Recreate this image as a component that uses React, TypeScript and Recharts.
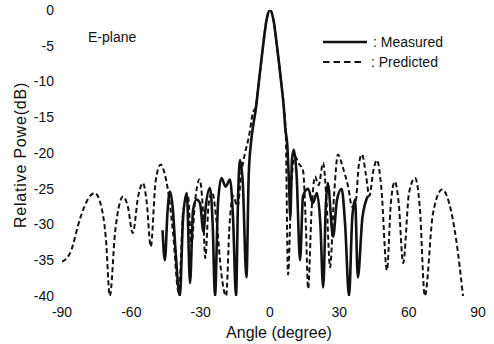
import React from "react";
import { LineChart, Line, XAxis, YAxis } from "recharts";

// predicted pattern (dashed), angle in degrees / power in dB
const predAngle = [
  -90, -86.5, -82, -78.5, -75.8, -73, -71, -69.3, -67, -65, -63.6, -61.5, -59.4, -57, -55, -53.3,
  -51.6, -49.5, -47.3, -45.5, -44, -42, -39.5, -37.5, -35.5, -34, -32.5, -30.5, -29, -28, -26.5,
  -25, -23, -21, -19, -17.5, -16, -14, -12.5, -10.8, -9, -7.5, -6.2, -4.8, -3, -1.5, 0, 1.5, 3,
  4.8, 6, 6.8, 7.8, 9.3, 10.8, 12.5, 14.3, 15.5, 16.5, 18, 19.5, 21, 23, 24.5, 26, 27.7, 29.4,
  31.5, 33.8, 35.5, 37, 38.5, 39.8, 41.5, 43, 44.7, 46.3, 48.2, 50.6, 52.3, 54, 55.7, 57.6, 60.2,
  62.8, 64.8, 67, 70.5, 74.5, 77.5, 80.5, 83.5,
];
const predPower = [
  -35.2, -34, -29, -26.3, -25.6, -27.5, -32, -40, -31, -27, -26.1, -27.5, -31.2, -26, -24.2, -27,
  -33.1, -24, -21.6, -23, -25.5, -31, -39.5, -28, -26, -33, -27, -23.7, -28, -34.7, -27,
  -25.5, -30, -37, -40, -30, -26, -27.5, -23, -20, -17.5, -14.5, -13.5, -10, -5, -1.4, 0, -1.4, -5,
  -10, -13.5, -17, -37, -24, -20.5, -21.5, -22.5, -30, -39, -28, -23.3, -24.5, -21.4, -27, -36, -26, -20.2,
  -22, -24.7, -27.5, -27, -21.5, -20.2, -23, -26, -22.5, -21, -25, -36.4, -27, -24, -27, -35.4, -25.5,
  -23.5, -27.5, -40, -28.5, -25.1, -27, -32, -40,
];

// measured pattern (solid)
const measAngle = [
  -46.5, -45.5, -44.3, -43.3, -42, -41, -39, -37.6, -36, -34.6, -33.3, -31.8, -30.3, -28.8, -27.8,
  -26, -24.8, -23.8, -22.5, -21, -19.2, -17.3, -16, -14.7, -13.8, -13, -11.8, -10.2, -9.2, -8.2,
  -7.2, -6.2, -4.8, -3, -1.5, 0, 1.5, 3, 4.8, 6, 6.6, 7.5, 8.2, 8.8, 9.5, 10.3, 11.5, 13, 14.3,
  16.5, 18.5, 20.3, 21.8, 23, 24.2, 25, 27.3, 29, 31, 32.5, 34.2, 35.6, 36.8, 38, 40, 42.4,
];
const measPower = [
  -30.8, -35, -28, -25.4, -28, -33, -40, -29, -25.6, -38.2, -28, -26.5, -27, -31, -27.5,
  -24.9, -30, -40, -27, -23.5, -24.7, -23.7, -29, -40, -26, -21, -24, -37.4, -23, -18.5,
  -16, -14, -10, -5, -1.4, 0, -1.4, -5, -10, -13.8, -16.5, -19, -24, -29, -21, -19.5, -23, -35, -26,
  -25, -27, -25.6, -30, -38.8, -27, -24.2, -31.7, -26.5, -25, -30, -40, -29, -26.5, -37.4, -29, -26,
];

const xTicks = [-90, -60, -30, 0, 30, 60, 90];
const yTicks = [0, -5, -10, -15, -20, -25, -30, -35, -40];

const predicted = predAngle.map((a, i) => ({ angle: a, power: predPower[i] }));
const measured = measAngle.map((a, i) => ({ angle: a, power: measPower[i] }));

const FONT = "'Liberation Sans', Arial, Helvetica, sans-serif";
const INK = "#111";
const SOLID_W = 2.6;
const DASH_W = 2;
const DASH = "5 3";

const tickStyle = { fill: INK, fontSize: 14, fontFamily: FONT };

const Decorations = () => (
  <g fontFamily={FONT} fill={INK}>
    <text
      x={20}
      y={155}
      fontSize={16}
      letterSpacing={0.8}
      textAnchor="middle"
      dominantBaseline="central"
      transform="rotate(-90 20 155)"
    >
      Relative Powe(dB)
    </text>
    <text x={88} y={42} fontSize={14}>E-plane</text>
    <line x1={323} x2={367} y1={42} y2={42} stroke={INK} strokeWidth={SOLID_W} />
    <text x={373} y={46.5} fontSize={14}>: Measured</text>
    <line x1={323} x2={364} y1={62} y2={62} stroke={INK} strokeWidth={DASH_W} strokeDasharray="6.5 4" />
    <text x={371} y={66.5} fontSize={14}>: Predicted</text>
  </g>
);

export default function App() {
  return (
    <div style={{ position: "absolute", left: 0, top: 0, width: 494, height: 344, background: "#fff" }}>
      <LineChart width={494} height={344} margin={{ top: 10, right: 16, bottom: 0, left: 0 }}>
        <XAxis
          type="number"
          dataKey="angle"
          domain={[-90, 90]}
          ticks={xTicks}
          axisLine={false}
          tickLine={false}
          tickMargin={5}
          height={48}
          tick={tickStyle}
          allowDataOverflow
          label={{
            value: "Angle (degree)",
            position: "insideBottom",
            offset: 6,
            dx: 9,
            style: { fill: INK, fontSize: 16, fontFamily: FONT },
          }}
        />
        <YAxis
          type="number"
          dataKey="power"
          domain={[-40, 0]}
          ticks={yTicks}
          axisLine={false}
          tickLine={false}
          width={62}
          tick={tickStyle}
          allowDataOverflow
          label={() => <Decorations />}
        />
        <Line
          data={predicted}
          dataKey="power"
          type="monotone"
          stroke={INK}
          strokeWidth={DASH_W}
          strokeDasharray={DASH}
          dot={false}
          isAnimationActive={false}
        />
        <Line
          data={measured}
          dataKey="power"
          type="monotone"
          stroke={INK}
          strokeWidth={SOLID_W}
          dot={false}
          isAnimationActive={false}
        />
      </LineChart>
    </div>
  );
}
